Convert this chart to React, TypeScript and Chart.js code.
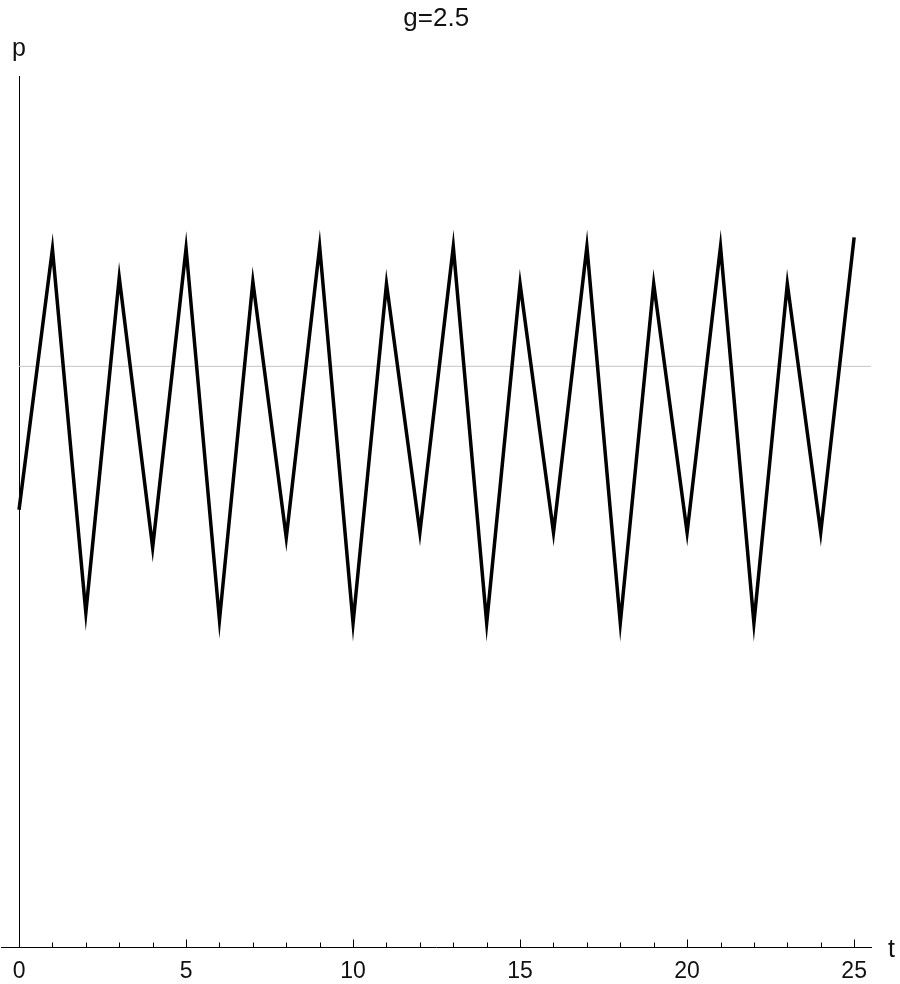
import React, { useEffect, useRef } from 'react';
import { Chart, registerables } from 'chart.js';

Chart.register(...registerables);

// time steps and price path (vertex values)
const periods = [0, 1, 2, 3, 4, 5, 6, 7, 8, 9, 10, 11, 12, 13, 14, 15, 16, 17, 18, 19, 20, 21, 22, 23, 24, 25];
const prices = [
  0.753, 1.202, 0.576, 1.153, 0.688, 1.203, 0.563, 1.146, 0.705, 1.206,
  0.558, 1.142, 0.714, 1.206, 0.558, 1.142, 0.714, 1.206, 0.558, 1.142,
  0.714, 1.206, 0.558, 1.142, 0.714, 1.222,
];
const equilibrium = 1;
const majorTicks = [0, 5, 10, 15, 20, 25];
const minorTicks = periods;

const T_MIN = -0.54;
const T_MAX = 25.52;
const P_MIN = 0;
const P_MAX = 1.5;

const FONT = '"Liberation Sans", Arial, Helvetica, sans-serif';

// sharp peaks need a bigger miter limit than the canvas default of 10
const sharpJoins = {
  id: 'sharpJoins',
  beforeDatasetsDraw(chart: any) {
    chart.ctx.miterLimit = 40;
  },
  afterDatasetsDraw(chart: any) {
    chart.ctx.miterLimit = 10;
  },
};

// inward tick marks + axis names (p, t), Mathematica style
const axisDecor = {
  id: 'axisDecor',
  afterDraw(chart: any) {
    const { ctx, scales } = chart;
    const x = scales.x;
    const y = scales.y;
    const base = Math.round(y.getPixelForValue(P_MIN)) + 0.5;
    ctx.save();
    ctx.strokeStyle = '#000';
    ctx.lineWidth = 1;
    ctx.beginPath();
    minorTicks.forEach((t) => {
      const px = Math.round(x.getPixelForValue(t)) + 0.5;
      const len = majorTicks.includes(t) ? 8 : 5;
      ctx.moveTo(px, base);
      ctx.lineTo(px, base - len);
    });
    ctx.stroke();

    ctx.fillStyle = '#111';
    ctx.font = `25px ${FONT}`;
    ctx.textAlign = 'center';
    ctx.textBaseline = 'alphabetic';
    ctx.fillText('p', x.getPixelForValue(0), y.getPixelForValue(P_MAX) - 20);
    ctx.fillText('t', x.right + 20, base + 9);
    ctx.restore();
  },
};

export default function App() {
  const canvasRef = useRef<HTMLCanvasElement>(null);
  const chartRef = useRef<Chart | null>(null);

  useEffect(() => {
    if (!canvasRef.current) return;
    if (chartRef.current) chartRef.current.destroy();

    chartRef.current = new Chart(canvasRef.current, {
      type: 'line',
      data: {
        datasets: [
          {
            label: 'p',
            data: periods.map((t, i) => ({ x: t, y: prices[i] })),
            borderColor: '#000',
            borderWidth: 3.5,
            borderJoinStyle: 'miter',
            pointRadius: 0,
            tension: 0,
            fill: false,
          },
          {
            label: 'equilibrium',
            data: [
              { x: 0, y: equilibrium },
              { x: T_MAX, y: equilibrium },
            ],
            borderColor: '#c4c4c4',
            borderWidth: 1,
            pointRadius: 0,
            fill: false,
          },
        ],
      },
      options: {
        animation: false,
        responsive: true,
        maintainAspectRatio: false,
        layout: {
          padding: { left: 1, right: 28.5, top: 0, bottom: -12.6 },
        },
        plugins: {
          legend: { display: false },
          tooltip: { enabled: false },
          title: {
            display: true,
            text: 'g=2.5',
            color: '#111',
            font: { family: FONT, size: 26, weight: 'normal' },
            padding: { top: 3.4, bottom: 41.4 },
          },
        },
        scales: {
          x: {
            type: 'linear',
            min: T_MIN,
            max: T_MAX,
            afterBuildTicks: (scale: any) => {
              scale.ticks = majorTicks.map((v) => ({ value: v }));
            },
            grid: { display: false, drawTicks: false },
            border: { display: true, color: '#000', width: 1 },
            ticks: {
              padding: 11,
              color: '#111',
              maxRotation: 0,
              autoSkip: false,
              font: { family: FONT, size: 23 },
              callback: (v: any) => String(v),
            },
          },
          y: {
            type: 'linear',
            position: { x: 0 } as any,
            min: P_MIN,
            max: P_MAX,
            grid: { display: false, drawTicks: false },
            border: { display: true, color: '#000', width: 1 },
            ticks: { display: false },
          },
        },
      },
      plugins: [sharpJoins, axisDecor],
    });

    return () => {
      if (chartRef.current) {
        chartRef.current.destroy();
        chartRef.current = null;
      }
    };
  }, []);

  return (
    <div style={{ position: 'absolute', left: 0, top: 0, width: '900px', height: '984px', background: '#fff' }}>
      <canvas ref={canvasRef}></canvas>
    </div>
  );
}
